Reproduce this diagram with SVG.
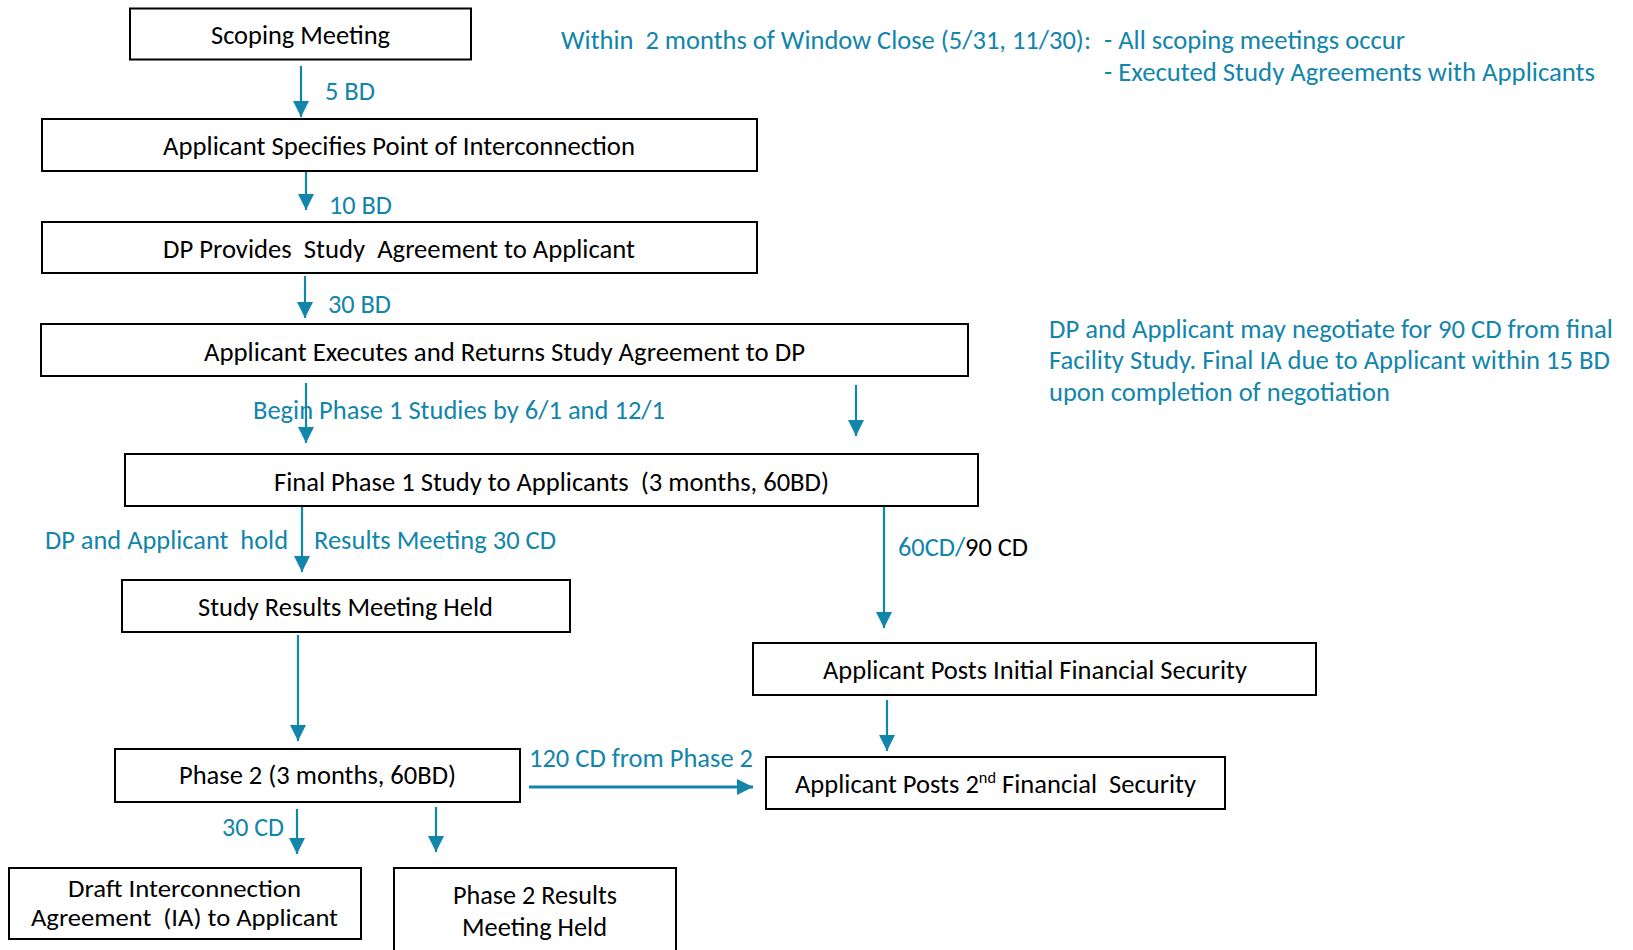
<svg xmlns="http://www.w3.org/2000/svg" width="1633" height="950" viewBox="0 0 1633 950">
<style>
text{font-family:Carlito,Lato,"Liberation Sans",sans-serif;font-size:26px;white-space:pre}
.n{fill:#000;text-anchor:middle}
.b{fill:#1285AB}
.k{fill:#000}
.s{font-size:23.5px}
rect{fill:#fff;stroke:#000;stroke-width:2}
.c line{stroke:#1285AB;stroke-width:2.2;marker-end:url(#ah)}
</style>
<defs>
<marker id="ah" markerUnits="userSpaceOnUse" markerWidth="16" markerHeight="16" refX="15" refY="7.5" orient="auto" viewBox="0 0 15 15">
<path d="M0,0 L15,7.5 L0,15 z" fill="#1285AB"/>
</marker>
</defs>
<rect x="0" y="0" width="1633" height="950" style="stroke:none;fill:#fff"/>

<g id="scoping"><rect x="130" y="8.5" width="341" height="51"/><text class="n" x="300.5" y="44" textLength="179" lengthAdjust="spacingAndGlyphs">Scoping Meeting</text></g>
<g id="specifies"><rect x="42" y="119" width="715" height="52"/><text class="n" x="399" y="155" textLength="472" lengthAdjust="spacingAndGlyphs">Applicant Specifies Point of Interconnection</text></g>
<g id="provides"><rect x="42" y="222" width="715" height="51"/><text class="n" x="399" y="258" textLength="472" lengthAdjust="spacingAndGlyphs">DP Provides  Study  Agreement to Applicant</text></g>
<g id="executes"><rect x="41" y="324" width="927" height="52"/><text class="n" x="504.5" y="360.5" textLength="601" lengthAdjust="spacingAndGlyphs">Applicant Executes and Returns Study Agreement to DP</text></g>
<g id="phase1"><rect x="125" y="454" width="853" height="52"/><text class="n" x="551.5" y="490.5" textLength="555" lengthAdjust="spacingAndGlyphs">Final Phase 1 Study to Applicants  (3 months, 60BD)</text></g>
<g id="results"><rect x="122" y="580" width="448" height="52"/><text class="n" x="345.5" y="615.5" textLength="295" lengthAdjust="spacingAndGlyphs">Study Results Meeting Held</text></g>
<g id="initialsec"><rect x="753" y="643" width="563" height="52"/><text class="n" x="1035" y="678.5" textLength="424" lengthAdjust="spacingAndGlyphs">Applicant Posts Initial Financial Security</text></g>
<g id="phase2"><rect x="115" y="749" width="405" height="53"/><text class="n" x="317.5" y="783.5" textLength="277" lengthAdjust="spacingAndGlyphs">Phase 2 (3 months, 60BD)</text></g>
<g id="secondsec"><rect x="766" y="757" width="459" height="52"/><text class="n" x="995.5" y="792.5" textLength="401" lengthAdjust="spacingAndGlyphs">Applicant Posts 2<tspan font-size="16" dy="-10">nd</tspan><tspan dy="10"> Financial  Security</tspan></text></g>
<g id="draftia"><rect x="9" y="868" width="352" height="71"/><text class="n s" x="184.5" y="896.5" textLength="233" lengthAdjust="spacingAndGlyphs">Draft Interconnection</text><text class="n s" x="184.5" y="925.5" textLength="307" lengthAdjust="spacingAndGlyphs">Agreement  (IA) to Applicant</text></g>
<g id="p2results"><rect x="394" y="868" width="282" height="95"/><text class="n" x="535" y="903.5" textLength="164" lengthAdjust="spacingAndGlyphs">Phase 2 Results</text><text class="n" x="534.5" y="935.5" textLength="145" lengthAdjust="spacingAndGlyphs">Meeting Held</text></g>

<g id="connectors" class="c">
<line x1="301" y1="66" x2="301" y2="117"/>
<line x1="306" y1="172" x2="306" y2="210"/>
<line x1="305" y1="276" x2="305" y2="318"/>
<line x1="306" y1="383" x2="306" y2="443"/>
<line x1="856" y1="385" x2="856" y2="436"/>
<line x1="302" y1="507" x2="302" y2="572"/>
<line x1="884" y1="507" x2="884" y2="628"/>
<line x1="298" y1="635" x2="298" y2="741"/>
<line x1="887" y1="700" x2="887" y2="751"/>
<line x1="297" y1="809" x2="297" y2="854"/>
<line x1="436" y1="807" x2="436" y2="852"/>
<line x1="529" y1="787" x2="753" y2="787" style="stroke-width:3"/>
</g>

<g id="labels">
<text class="b" x="325" y="99.5" textLength="50" lengthAdjust="spacingAndGlyphs">5 BD</text>
<text class="b" x="329" y="213.5" textLength="63" lengthAdjust="spacingAndGlyphs">10 BD</text>
<text class="b" x="328" y="312.5" textLength="63" lengthAdjust="spacingAndGlyphs">30 BD</text>
<text class="b" x="253" y="418.5" textLength="412" lengthAdjust="spacingAndGlyphs">Begin Phase 1 Studies by 6/1 and 12/1</text>
<text class="b" x="45" y="548.5" textLength="243" lengthAdjust="spacingAndGlyphs">DP and Applicant  hold</text>
<text class="b" x="314" y="548.5" textLength="242" lengthAdjust="spacingAndGlyphs">Results Meeting 30 CD</text>
<text class="b" x="898" y="555.5" textLength="130" lengthAdjust="spacingAndGlyphs">60CD/<tspan class="k">90 CD</tspan></text>
<text class="b" x="529" y="766.5" textLength="224" lengthAdjust="spacingAndGlyphs">120 CD from Phase 2</text>
<text class="b" x="222" y="835.5" textLength="62" lengthAdjust="spacingAndGlyphs">30 CD</text>
<text class="b" x="561" y="48.5" textLength="530" lengthAdjust="spacingAndGlyphs">Within  2 months of Window Close (5/31, 11/30):</text>
<text class="b" x="1104" y="48.5" textLength="301" lengthAdjust="spacingAndGlyphs">- All scoping meetings occur</text>
<text class="b" x="1104" y="80.5" textLength="491" lengthAdjust="spacingAndGlyphs">- Executed Study Agreements with Applicants</text>
<text class="b" x="1049" y="337.5" textLength="564" lengthAdjust="spacingAndGlyphs">DP and Applicant may negotiate for 90 CD from final</text>
<text class="b" x="1049" y="368.5" textLength="561" lengthAdjust="spacingAndGlyphs">Facility Study. Final IA due to Applicant within 15 BD</text>
<text class="b" x="1049" y="400.5" textLength="341" lengthAdjust="spacingAndGlyphs">upon completion of negotiation</text>
</g>
</svg>
